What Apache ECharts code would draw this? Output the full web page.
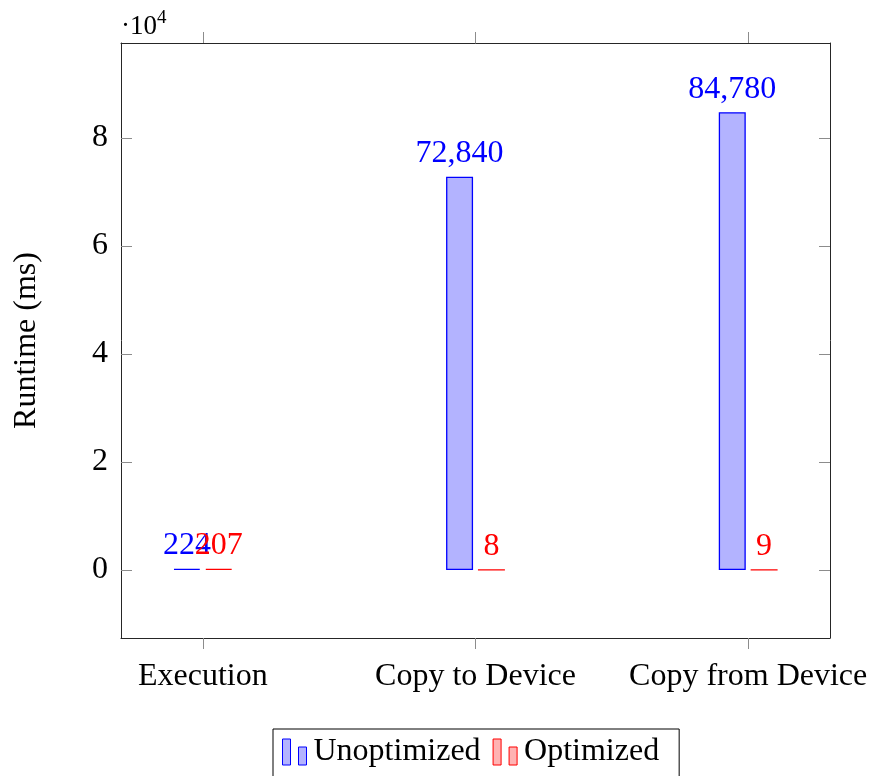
<!DOCTYPE html>
<html>
<head>
<meta charset="utf-8">
<script src="https://cdn.jsdelivr.net/npm/echarts@6/dist/echarts.min.js"></script>
<style>
  html, body { margin: 0; padding: 0; background: #fff; }
  #chart { width: 874px; height: 776px; }
</style>
</head>
<body>
<div id="chart"></div>
<script>
// Runtime per stage, in milliseconds
const categories = ['Execution', 'Copy to Device', 'Copy from Device'];
const unoptimized = [224, 72840, 84780];
const optimized = [207, 8, 9];
const yTicks = [0, 20000, 40000, 60000, 80000];

const FONT = '"Liberation Serif", "DejaVu Serif", serif';
const FRAME = '#262626';
const TICK = '#8c8c8c';
const X_MIN = -0.3, X_MAX = 2.3;
const Y_MIN = -12600, Y_MAX = 97600;
const catIdx = categories.map((_, i) => i);

const fmt = v => v.toLocaleString('en-US');

const chart = echarts.init(document.getElementById('chart'), null, { renderer: 'canvas' });

const barLabel = color => ({
  show: true,
  position: 'top',
  distance: 7,
  color: color,
  fontFamily: FONT,
  fontSize: 32,
  formatter: p => fmt(p.value[1])
});

chart.setOption({
  animation: false,
  backgroundColor: '#fff',
  grid: { left: 121, right: 44, top: 43, bottom: 138 },
  xAxis: [
    {
      type: 'value', min: X_MIN, max: X_MAX, position: 'bottom',
      axisLine: { show: true, onZero: false, lineStyle: { color: FRAME, width: 1 } },
      axisTick: { show: true, inside: false, length: 11, customValues: catIdx, lineStyle: { color: TICK } },
      axisLabel: {
        customValues: catIdx, margin: 23, color: '#000', fontFamily: FONT, fontSize: 32,
        formatter: v => categories[Math.round(v)]
      },
      splitLine: { show: false }
    },
    {
      type: 'value', min: X_MIN, max: X_MAX, position: 'top',
      axisLine: { show: true, onZero: false, lineStyle: { color: FRAME, width: 1 } },
      axisTick: { show: true, inside: false, length: 11, customValues: catIdx, lineStyle: { color: TICK } },
      axisLabel: { show: false },
      splitLine: { show: false }
    }
  ],
  yAxis: [
    {
      type: 'value', min: Y_MIN, max: Y_MAX, position: 'left',
      name: 'Runtime (ms)', nameLocation: 'middle', nameGap: 78,
      nameTextStyle: { color: '#000', fontFamily: FONT, fontSize: 32 },
      axisLine: { show: true, onZero: false, lineStyle: { color: FRAME, width: 1 } },
      axisTick: { show: true, inside: true, length: 11, customValues: yTicks, lineStyle: { color: TICK } },
      axisLabel: {
        customValues: yTicks, margin: 13, color: '#000', fontFamily: FONT, fontSize: 32,
        formatter: v => String(v / 10000)
      },
      splitLine: { show: false }
    },
    {
      type: 'value', min: Y_MIN, max: Y_MAX, position: 'right',
      axisLine: { show: true, onZero: false, lineStyle: { color: FRAME, width: 1 } },
      axisTick: { show: true, inside: true, length: 11, customValues: yTicks, lineStyle: { color: TICK } },
      axisLabel: { show: false },
      splitLine: { show: false }
    }
  ],
  legend: {
    left: 273, top: 729,
    orient: 'horizontal',
    padding: [7, 20, 12, 9],
    borderColor: '#000', borderWidth: 1,
    itemWidth: 24, itemHeight: 26, itemGap: 12,
    textStyle: { color: '#000', fontFamily: FONT, fontSize: 32, padding: [0, 0, 0, 2] },
    data: [
      { name: 'Unoptimized', icon: 'path://M0,0h8v26h-8z M16,8h8v18h-8z',
        itemStyle: { color: '#b3b3ff', borderColor: '#0000ff', borderWidth: 1 } },
      { name: 'Optimized', icon: 'path://M0,0h8v26h-8z M16,8h8v18h-8z',
        itemStyle: { color: '#ffb3b3', borderColor: '#ff0000', borderWidth: 1 } }
    ]
  },
  // Axis scale factor shown above the y axis
  graphic: [
    {
      type: 'text', left: 121, top: 13,
      style: { text: '·10', fontFamily: FONT, fontSize: 27, fill: '#000' }
    },
    {
      type: 'text', left: 157, top: 9,
      style: { text: '4', fontFamily: FONT, fontSize: 19, fill: '#000' }
    }
  ],
  series: [
    {
      name: 'Unoptimized', type: 'bar', xAxisIndex: 0, yAxisIndex: 0,
      barWidth: 27, barGap: '18%',
      itemStyle: { color: '#b3b3ff', borderColor: '#0000ff', borderWidth: 1.3 },
      label: barLabel('#0000ff'),
      data: unoptimized.map((v, i) => [i, v])
    },
    {
      name: 'Optimized', type: 'bar', xAxisIndex: 0, yAxisIndex: 0,
      barWidth: 27, barGap: '18%',
      itemStyle: { color: '#ffb3b3', borderColor: '#ff0000', borderWidth: 1.3 },
      label: barLabel('#ff0000'),
      data: optimized.map((v, i) => [i, v])
    }
  ]
});
</script>
</body>
</html>
